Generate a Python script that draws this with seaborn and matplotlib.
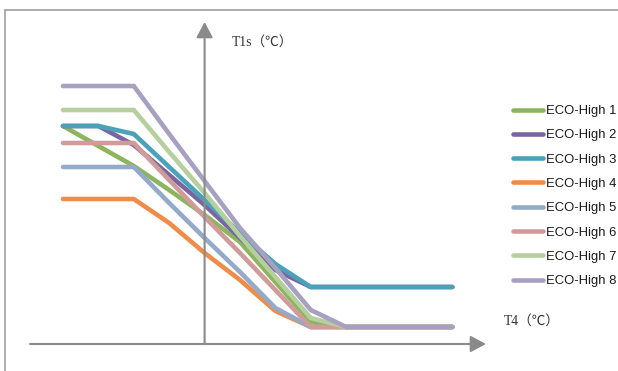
import numpy as np
import pandas as pd
import matplotlib
matplotlib.use("Agg")
import matplotlib.pyplot as plt
import seaborn as sns
from matplotlib.lines import Line2D

# ---- data (T1s in arbitrary height units) ----
t4 = [-20, -15, -10, -5, 0, 5, 10, 15, 20, 25, 30, 35]
eco1 = [218, 198, 178, 154, 129, 102, 62, 22, 17, 17, 17, 17]
eco2 = [218, 218, 199, 169, 139, 106, 74, 57, 57, 57, 57, 57]
eco3 = [218, 218, 210, 177, 144, 111, 80, 57, 57, 57, 57, 57]
eco4 = [145, 145, 145, 121, 91, 64, 33, 17, 17, 17, 17, 17]
eco5 = [177, 177, 177, 141, 106, 72, 36, 17, 17, 17, 17, 17]
eco6 = [201, 201, 201, 164, 127, 91, 54, 17, 17, 17, 17, 17]
eco7 = [234, 234, 234, 192, 151, 108, 67, 26, 17, 17, 17, 17]
eco8 = [258, 258, 258, 210, 163, 116, 76, 34, 17, 17, 17, 17]
series_names = [f"ECO-High {i}" for i in range(1, 9)]
series_vals = [eco1, eco2, eco3, eco4, eco5, eco6, eco7, eco8]
colors = ["#8db55e", "#7b65a1", "#4aa2b9", "#f08c4a",
          "#94aacb", "#d09b9b", "#b5cf9f", "#a8a0c0"]

df = pd.DataFrame({
    "T4": np.tile(t4, len(series_names)),
    "T1s": np.concatenate(series_vals),
    "series": np.repeat(series_names, len(t4)),
})

sns.set_theme(style="white")
plt.rcParams["font.family"] = ["Liberation Sans", "DejaVu Sans"]

W, H = 618, 371
fig = plt.figure(figsize=(W / 100, H / 100), dpi=100)
ax = fig.add_axes([0, 0, 1, 1])

sns.lineplot(data=df, x="T4", y="T1s", hue="series", palette=colors,
             linewidth=3.3, ax=ax, sort=False, legend=True)
for ln in ax.lines:
    ln.set_solid_capstyle("round")
    ln.set_solid_joinstyle("round")

# pixel mapping: T4=-20 -> x=63px, 5 deg = 35.4px ; T1s value = 344 - ypix
ax.set_xlim((0 - 63) / 7.08 - 20, (W - 63) / 7.08 - 20)
ax.set_ylim(344 - H, 344)
ax.axis("off")

axis_col = "#8a8a8a"
arrow_kw = dict(arrowstyle="-|>,head_length=0.47,head_width=0.25",
                mutation_scale=20, lw=1.5, color=axis_col,
                shrinkA=0, shrinkB=0)
ax.annotate("", xy=(0, 344 - 22), xytext=(0, 0), arrowprops=arrow_kw)
ax.annotate("", xy=((486 - 63) / 7.08 - 20, 0),
            xytext=((30 - 63) / 7.08 - 20, 0), arrowprops=arrow_kw)

serif = ["Liberation Serif", "Noto Sans CJK SC"]
fig.text(232 / W, 1 - 42 / H, "T1s（℃）", family=serif, fontsize=9.8,
         color="#333333", ha="left", va="center")
fig.text(504 / W, 1 - 321 / H, "T4（℃）", family=serif, fontsize=9.8,
         color="#333333", ha="left", va="center")

# frame
fig.add_artist(Line2D([5 / W, 5 / W], [0, 1 - 9.5 / H], transform=fig.transFigure,
                      color="#a0a0a0", lw=1.2))
fig.add_artist(Line2D([5 / W, 1], [1 - 9.5 / H, 1 - 9.5 / H], transform=fig.transFigure,
                      color="#a0a0a0", lw=1.2))

handles, labels = ax.get_legend_handles_labels()
for h in handles:
    h.set_linewidth(3.3)
    h.set_solid_capstyle("round")
leg = ax.legend(handles, labels, loc="upper left",
                bbox_to_anchor=(513 / W, 1 - 105 / H),
                bbox_transform=fig.transFigure, frameon=False,
                fontsize=9.4, handlelength=2.3, handletextpad=0.22,
                labelspacing=0.93, borderpad=0, borderaxespad=0)
for t in leg.get_texts():
    t.set_color("#1a1a1a")

fig.savefig("out.png", dpi=100)
